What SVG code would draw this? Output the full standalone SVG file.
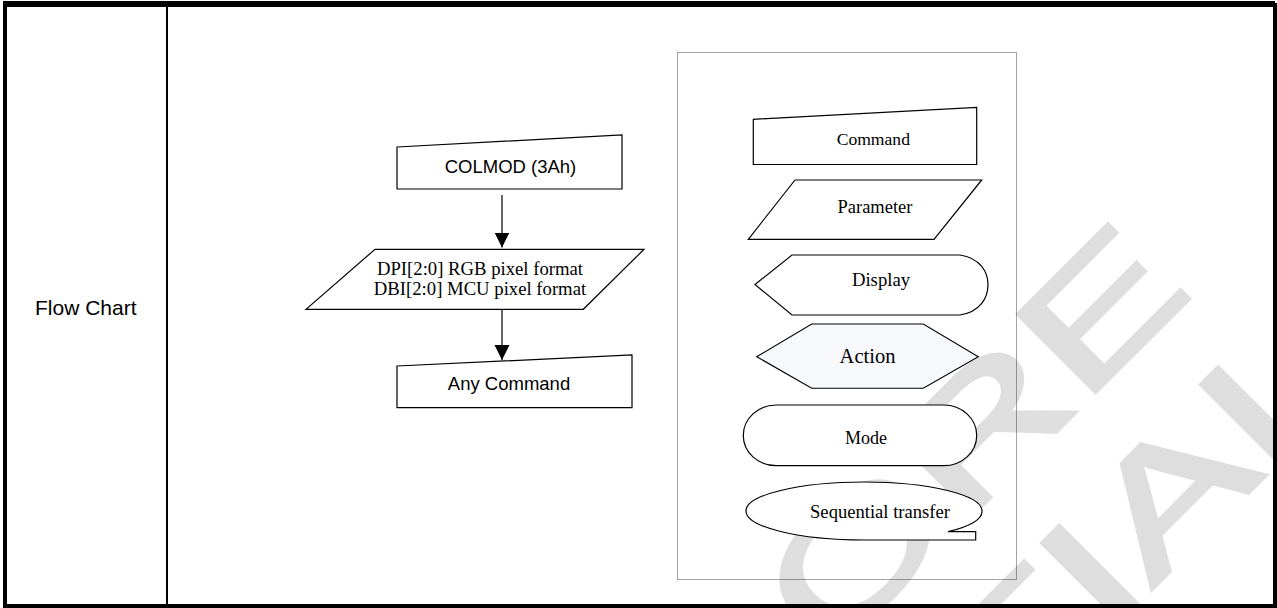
<svg xmlns="http://www.w3.org/2000/svg" width="1277" height="608" viewBox="0 0 1277 608">
<style>
.sh{fill:#fff;stroke:#000;stroke-width:1.2}
.act{fill:#f6f8fc;stroke:#000;stroke-width:1.1}
.sans{font-family:"Liberation Sans",Arial,sans-serif;fill:#000}
.serif{font-family:"Liberation Serif","Times New Roman",serif;fill:#000}
.mid{text-anchor:middle}
.wm{font-family:"Liberation Sans",Arial,sans-serif;font-size:160px;fill:#dedede;stroke:#dedede;stroke-width:4;stroke-linejoin:miter;text-anchor:middle}
.conn{stroke:#000;stroke-width:1.2;fill:none}
.frame{fill:#000}
.legend{fill:none;stroke:#444;stroke-width:1;stroke-dasharray:1 1}
</style>
<defs>
<marker id="ah" markerUnits="userSpaceOnUse" markerWidth="16" markerHeight="16" refX="15" refY="8" orient="auto">
<path d="M0,0.5 L15,8 L0,15.5 Z" fill="#000"/>
</marker>
</defs>
<rect width="1277" height="608" fill="#fff"/>
<g id="watermark">
<text class="wm" x="-125.3" y="1052" transform="rotate(-45) scale(1.5 1)">GALAXYCORE</text>
<text class="wm" x="-125.3" y="1231" transform="rotate(-45) scale(1.5 1)">CONFIDENTIAL</text>
</g>
<g id="table">
<rect class="frame" x="3" y="1" width="1272" height="6"/>
<rect class="frame" x="3" y="1" width="4" height="607"/>
<rect class="frame" x="1273" y="3" width="4" height="605"/>
<rect class="frame" x="3" y="604" width="1274" height="4"/>
<rect class="frame" x="166" y="7" width="2" height="597"/>
<text class="sans" x="35" y="314.5" font-size="21">Flow Chart</text>
</g>
<rect id="legend-box" class="legend" x="677.5" y="52.5" width="339" height="527"/>
<g id="connectors">
<line class="conn" x1="502" y1="195" x2="502" y2="247.5" marker-end="url(#ah)"/>
<line class="conn" x1="502" y1="309" x2="502" y2="360" marker-end="url(#ah)"/>
</g>
<g id="colmod">
<path class="sh" d="M397,147 L622,135 L622,189 L397,189 Z"/>
<text class="sans mid" x="510.5" y="173.3" font-size="18.5">COLMOD (3Ah)</text>
</g>
<g id="pixel-format">
<path class="sh" d="M375,249.3 L644,249.3 L583.3,309.3 L306,309.3 Z"/>
<text class="serif mid" x="480" y="274.5" font-size="18.7">DPI[2:0] RGB pixel format</text>
<text class="serif mid" x="480" y="295" font-size="18.7">DBI[2:0] MCU pixel format</text>
</g>
<g id="any-command">
<path class="sh" d="M397,366 L632,355 L632,407.7 L397,407.7 Z"/>
<text class="sans mid" x="509" y="390" font-size="18.5">Any Command</text>
</g>
<g id="legend-command">
<path class="sh" d="M753.3,119.3 L976.7,107.3 L976.7,164.5 L753.3,164.5 Z"/>
<text class="serif mid" x="873.3" y="145" font-size="17.6">Command</text>
</g>
<g id="legend-parameter">
<path class="sh" d="M795,180 L981.7,180 L934,239.3 L748.3,239.3 Z"/>
<text class="serif mid" x="875" y="212.7" font-size="18.5">Parameter</text>
</g>
<g id="legend-display">
<path class="sh" d="M755,284.5 L792,255 L960,255 C980,258 988,272 988,284.5 C988,298 980,312 960,315 L792,315 Z"/>
<text class="serif mid" x="881" y="286" font-size="18.7">Display</text>
</g>
<g id="legend-action">
<path class="act" d="M756.7,356.7 L811.7,324 L923.3,324 L978.3,356.7 L923.3,388.3 L811.7,388.3 Z"/>
<text class="serif mid" x="867.5" y="363.3" font-size="20.5">Action</text>
</g>
<g id="legend-mode">
<rect class="sh" x="743.3" y="405" width="233.4" height="60.7" rx="33" ry="30.3"/>
<text class="serif mid" x="866" y="444.3" font-size="18">Mode</text>
</g>
<g id="legend-sequential">
<path class="sh" d="M975.7,540 L864,540 A118,29 0 0 1 746,511 A118,29 0 0 1 864,482 A118,29 0 0 1 982,511 A118,29 0 0 1 948,531.7 L975.7,531.7 Z"/>
<text class="serif mid" x="880" y="518.3" font-size="18.6">Sequential transfer</text>
</g>
</svg>
